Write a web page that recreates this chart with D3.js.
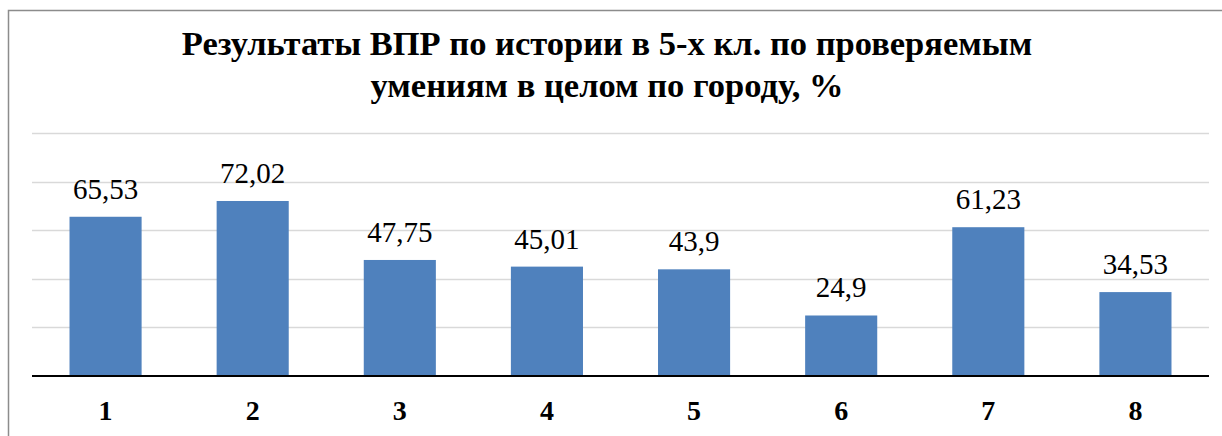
<!DOCTYPE html>
<html>
<head>
<meta charset="utf-8">
<script src="https://cdn.jsdelivr.net/npm/d3@7"></script>
<style>
  body { margin: 0; background: #fff; }
  svg { display: block; }
</style>
</head>
<body>
<div id="chart"></div>
<script>
'use strict';

var categories = ['1', '2', '3', '4', '5', '6', '7', '8'];
var values = [65.53, 72.02, 47.75, 45.01, 43.9, 24.9, 61.23, 34.53];
var gridTicks = [0, 20, 40, 60, 80, 100];
var titleLines = ['Результаты ВПР по истории в 5-х кл. по проверяемым', 'умениям в целом по городу, %'];

var W = 1222, H = 436;
var serif = 'Liberation Serif, serif';

var svg = d3.select('#chart').append('svg')
    .attr('width', W)
    .attr('height', H);

// chart frame (right and bottom edges are off the picture)
svg.append('rect')
    .attr('x', 8.5).attr('y', 10.5)
    .attr('width', W + 20).attr('height', H + 20)
    .attr('fill', '#fff')
    .attr('stroke', '#8c8c8c')
    .attr('stroke-width', 1.5);

var xScale = d3.scaleBand()
    .domain(categories)
    .range([32, 1209])
    .paddingInner(0.51)
    .paddingOuter(0.255);

var yScale = d3.scaleLinear()
    .domain([0, 100])
    .range([376, 133]);

// gridlines
svg.append('g').selectAll('line')
    .data(gridTicks.slice(1))
    .enter()
    .append('line')
    .attr('x1', 32).attr('x2', 1209)
    .attr('y1', function (d) { return Math.round(yScale(d)) + 0.5; })
    .attr('y2', function (d) { return Math.round(yScale(d)) + 0.5; })
    .attr('stroke', '#d9d9d9')
    .attr('stroke-width', 1.5);

// bars
svg.append('g').selectAll('rect')
    .data(values)
    .enter()
    .append('rect')
    .attr('x', function (d, i) { return xScale(categories[i]); })
    .attr('y', function (d) { return yScale(d); })
    .attr('width', xScale.bandwidth())
    .attr('height', function (d) { return yScale(0) - yScale(d); })
    .attr('fill', '#4f81bd');

// value labels
svg.append('g').selectAll('text')
    .data(values)
    .enter()
    .append('text')
    .attr('x', function (d, i) { return xScale(categories[i]) + xScale.bandwidth() / 2; })
    .attr('y', function (d) { return yScale(d) - 18; })
    .attr('text-anchor', 'middle')
    .attr('font-family', serif)
    .attr('font-size', '29px')
    .attr('fill', '#000')
    .text(function (d) { return String(d).replace('.', ','); });

// x axis
var xAxis = svg.append('g')
    .attr('transform', 'translate(0,' + yScale(0) + ')')
    .call(d3.axisBottom(xScale).tickSize(0).tickPadding(0));
xAxis.attr('font-family', serif);
xAxis.select('.domain')
    .attr('d', 'M32,0H1209')
    .attr('stroke', '#000')
    .attr('stroke-width', 2);
xAxis.selectAll('text')
    .attr('dy', null)
    .attr('y', 44)
    .attr('font-family', serif)
    .attr('font-size', '28px')
    .attr('font-weight', 'bold')
    .attr('fill', '#000');

// title
svg.append('g').selectAll('text')
    .data(titleLines)
    .enter()
    .append('text')
    .attr('x', 607)
    .attr('y', function (d, i) { return 55 + i * 42; })
    .attr('text-anchor', 'middle')
    .attr('font-family', serif)
    .attr('font-size', '34.5px')
    .attr('font-weight', 'bold')
    .attr('fill', '#000')
    .text(function (d) { return d; });
</script>
</body>
</html>
